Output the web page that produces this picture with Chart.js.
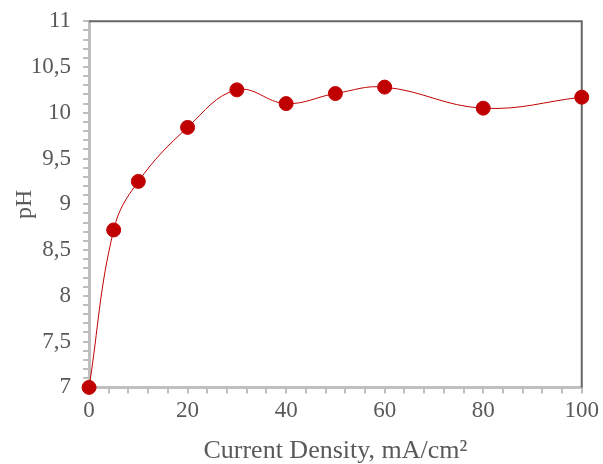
<!DOCTYPE html>
<html>
<head>
<meta charset="utf-8">
<script src="https://cdn.jsdelivr.net/npm/chart.js@4"></script>
<style>
  body { margin: 0; background: #fff; }
  #wrap { width: 603px; height: 464px; }
</style>
</head>
<body>
<div id="wrap"><canvas id="myChart"></canvas></div>
<script>
// current density (mA/cm2) and measured pH
const density = [0, 5, 10, 20, 30, 40, 50, 60, 80, 100];
const ph = [7.0, 8.72, 9.25, 9.84, 10.25, 10.1, 10.21, 10.28, 10.05, 10.17];
const xLabels = [0, 20, 40, 60, 80, 100];
const yLabels = ['7', '7,5', '8', '8,5', '9', '9,5', '10', '10,5', '11'];

const axisGray = '#bfbfbf';
const textGray = '#595959';
const fontFam = '"Liberation Serif", "Times New Roman", serif';

// top and right frame lines (dark gray)
const frame = {
    id: 'frame',
    beforeDatasetsDraw(chart) {
        const { ctx, chartArea: a } = chart;
        ctx.save();
        ctx.strokeStyle = '#666666';
        ctx.lineWidth = 2;
        ctx.beginPath();
        ctx.moveTo(a.left, a.top);
        ctx.lineTo(a.right, a.top);
        ctx.lineTo(a.right, a.bottom);
        ctx.stroke();
        ctx.restore();
    }
};

const ctx = document.getElementById('myChart').getContext('2d');
new Chart(ctx, {
    type: 'line',
    data: {
        datasets: [{
            label: 'pH',
            data: density.map((d, i) => ({ x: d, y: ph[i] })),
            borderColor: '#c00000',
            backgroundColor: '#c00000',
            borderWidth: 1,
            pointRadius: 7,
            pointHoverRadius: 7,
            tension: 0.4,
            clip: false
        }]
    },
    options: {
        responsive: true,
        maintainAspectRatio: false,
        animation: false,
        layout: { padding: { top: 17, right: 21, left: 10, bottom: 0 } },
        plugins: {
            legend: { display: false },
            tooltip: { enabled: false }
        },
        scales: {
            x: {
                type: 'linear',
                min: 0,
                max: 100,
                border: { color: axisGray, width: 3 },
                grid: { drawOnChartArea: false, color: axisGray, tickLength: 6, lineWidth: 2 },
                ticks: {
                    stepSize: 4,
                    autoSkip: false,
                    maxRotation: 0,
                    color: textGray,
                    font: { family: fontFam, size: 23 },
                    padding: 4,
                    callback: v => xLabels.includes(v) ? String(v) : ''
                },
                title: {
                    display: true,
                    text: 'Current Density, mA/cm²',
                    color: textGray,
                    font: { family: fontFam, size: 26, lineHeight: 1 },
                    padding: { top: 9, bottom: 0 }
                }
            },
            y: {
                min: 7,
                max: 11,
                border: { color: axisGray, width: 3 },
                grid: { drawOnChartArea: false, color: axisGray, tickLength: 6, lineWidth: 2 },
                ticks: {
                    stepSize: 0.1,
                    autoSkip: false,
                    color: textGray,
                    font: { family: fontFam, size: 23, lineHeight: 0.8 },
                    padding: 12,
                    callback: v => {
                        const k = Math.round(v * 10);
                        return k % 5 === 0 ? yLabels[(k - 70) / 5] : '';
                    }
                },
                title: {
                    display: true,
                    text: 'pH',
                    color: textGray,
                    font: { family: fontFam, size: 24, lineHeight: 1.2 },
                    padding: { top: 0, bottom: -20 }
                }
            }
        }
    },
    plugins: [frame]
});
</script>
</body>
</html>
